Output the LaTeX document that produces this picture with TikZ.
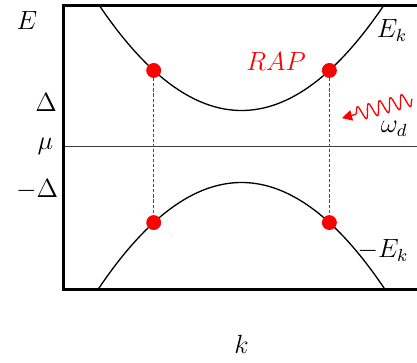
\documentclass[tikz,border=0pt]{standalone}
\usepackage{xcolor}
\definecolor{rapred}{HTML}{FF0000}
\usepackage{tikz}
\usetikzlibrary{arrows.meta,decorations.pathmorphing}

\begin{document}
\begin{tikzpicture}[x=16.4pt,y=16.4pt,
  every node/.style={font=\fontsize{12}{14}\selectfont},
  band/.style={line width=0.6pt},
  dot/.style={circle,fill=rapred,inner sep=0pt,minimum size=6.8pt},
  link/.style={black!70,line width=0.6pt,dash pattern=on 1.4pt off 0.9pt},
  photon/.style={rapred,line width=0.6pt,decorate,
    decoration={snake,amplitude=3.2pt,segment length=5.2pt,post length=4pt},
    -{Triangle[length=4.6pt,width=4.8pt]}}]
  \useasboundingbox (-6.71,-6.0) rectangle (4.875,4.07);
  % Frame and chemical potential
  \coordinate (tr) at (4.95,3.93);
  \coordinate (tl) at (-4.94,3.93);
  \coordinate (bl) at (-4.94,-3.97);
  \coordinate (br) at (4.95,-3.97);
  \coordinate (mul) at (-4.94,0);
  \coordinate (mur) at (4.95,0);
  \draw[black!75,line width=0.5pt] (mul) -- (mur);
  \draw[line width=1.4pt] (tr) -- (tl) -- (bl) -- (br);
  % Bands
  \draw[band] plot[domain=-3.96:3.96,samples=80] (\x,{1+0.187*\x*\x});
  \draw[band] plot[domain=-3.97:3.97,samples=80] (\x,{-1-0.187*\x*\x});
  % Resonant points
  \foreach \s/\n in {-1/l, 1/r} {
    \node[dot] (up\n) at ({\s*2.44},2.113) {};
    \node[dot] (lo\n) at ({\s*2.44},-2.113) {};
    \draw[link] (up\n) -- (lo\n.center);
  }
  % Labels
  \node (elab) at (-5.96,3.51) {$E$};
  \node (dlab) at (-5.43,1.22) {$\Delta$};
  \node (mlab) at (-5.45,0) {$\mu$};
  \node (mdlab) at (-5.68,-1.2) {$-\Delta$};
  \node (klab) at (0,-5.51) {$k$};
  \node (eklab) at (4.18,3.21) {$E_k$};
  \node (meklab) at (3.93,-2.88) {$-E_k$};
  \node[rapred,font=\fontsize{13}{15}\selectfont] (rap) at (0.96,2.35) {$RAP$};
  \node (wlab) at (4.24,0.49) {$\omega_d$};
  % Drive
  \coordinate (wstart) at (4.74,1.32);
  \coordinate (wend) at (2.79,0.79);
  \draw[photon] (wstart) -- (wend);
\end{tikzpicture}
\end{document}
